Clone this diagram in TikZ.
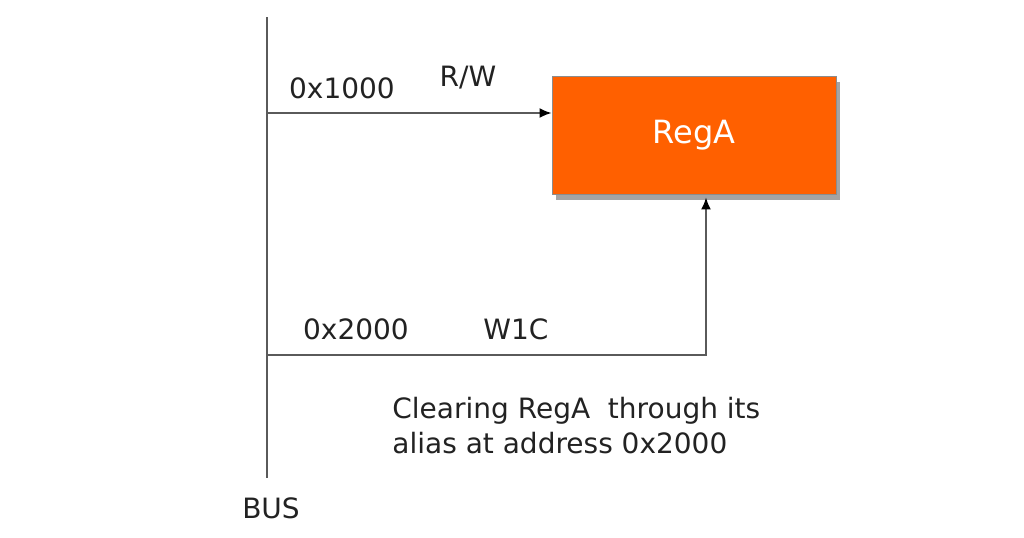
\documentclass[tikz,border=0pt]{standalone}
\usepackage{fontspec}
\setmainfont{DejaVu Sans}
\usepackage{tikz}
\usetikzlibrary{arrows.meta,positioning,shadows}
\definecolor{RegOrange}{HTML}{FF6000}
\definecolor{BusGray}{HTML}{5A5A5A}
\definecolor{TxtDark}{HTML}{222222}

\begin{document}
\begin{tikzpicture}[x=0.5pt, y=-0.5pt,
                    >={Latex[black,length=6pt,width=5pt]},
                    bus/.style = {draw=BusGray, line width=1pt},
                    lbl/.style = {inner sep=0pt, anchor=base, text=TxtDark, font=\fontsize{14}{17.5}\selectfont},
                    note/.style = {inner sep=0pt, anchor=north west, align=left, text=TxtDark, font=\fontsize{14}{17.5}\selectfont},
                    reg/.style = {draw=black!45, fill=RegOrange, text=white,
                                  minimum width=142pt, minimum height=59pt,
                                  font=\fontsize{16}{19}\selectfont,
                                  drop shadow={shadow xshift=2pt, shadow yshift=-3pt, fill=black!65, opacity=0.55}}
                    ]
\useasboundingbox (0,0) rectangle (1024,537);

% bus and register
\coordinate (bustop) at (267,17);
\coordinate (busbot) at (267,478);
\coordinate (tapA) at (267,113);
\coordinate (tapB) at (267,355);
\coordinate (bend) at (706,355);
\node[reg] (rega) at (694,135) {\raisebox{-1pt}{RegA}};

\draw[bus] (bustop) -- (busbot);
\draw[bus,->] (tapA) -- (tapA -| rega.west);
\draw[bus,->] (tapB) -- (bend) -- ([yshift=-1.5pt]bend |- rega.south);

% labels
\node[lbl] (addrA) at (342,98)  {0x1000};
\node[lbl] (modeA) at (468,86)  {R/W};
\node[lbl] (addrB) at (356,339) {0x2000};
\node[lbl] (modeB) at (516,339) {W1C};
\node[lbl] (busname) at (271,518) {BUS};
\node[note] (alias) at (392,397) {Clearing RegA\ \ through its\\alias at address 0x2000};
\end{tikzpicture}
\end{document}
